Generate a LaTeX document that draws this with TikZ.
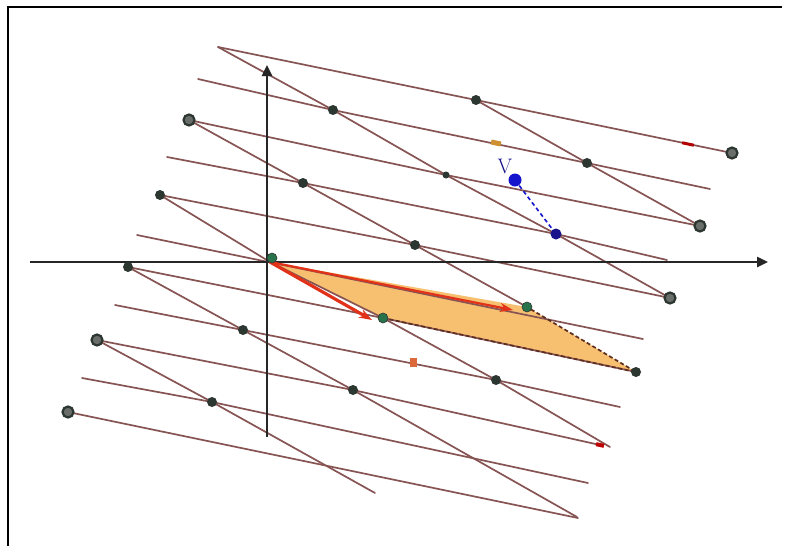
\documentclass[tikz,border=0pt]{standalone}
\usetikzlibrary{arrows.meta}
\definecolor{latcol}{RGB}{135,84,84}
\definecolor{ptdark}{RGB}{45,55,50}
\definecolor{ptgreen}{RGB}{40,115,75}
\definecolor{ringfill}{RGB}{105,110,107}
\definecolor{parfill}{RGB}{246,192,112}
\definecolor{paredge}{RGB}{95,45,30}
\definecolor{redarr}{RGB}{225,50,25}
\definecolor{vblue}{RGB}{20,20,205}
\definecolor{vnavy}{RGB}{25,20,140}
\definecolor{orgmark}{RGB}{205,145,50}
\definecolor{orgred}{RGB}{220,105,60}
\begin{document}
\begin{tikzpicture}[x=1pt,y=-1pt,
  latline/.style={draw=latcol,line width=1.7pt,line cap=round,line join=round},
  axisline/.style={draw=black!85,line width=2.4pt,-{Triangle[length=11pt,width=10pt]}},
  dotpt/.style={circle,fill=ptdark,inner sep=0pt,minimum size=10pt},
  greenpt/.style={circle,fill=ptgreen,draw=ptdark,line width=0.6pt,inner sep=0pt,minimum size=10pt},
  ringpt/.style={circle,fill=ringfill,draw=ptdark,line width=2.2pt,inner sep=0pt,minimum size=11pt},
  redvec/.style={draw=redarr,line cap=round,-{Stealth[length=13pt,width=9pt]}},
  edgedash/.style={draw=paredge,line width=1.7pt,dash pattern=on 4pt off 2.5pt},
  blueseg/.style={draw=vblue,line width=1.6pt,dash pattern=on 4pt off 3pt},
  markbox/.style={inner sep=0pt}
]
\useasboundingbox (0,0) rectangle (788,546);
\fill[white] (0,0) rectangle (788,546);
% frame
\coordinate (fTL) at (8,7);
\coordinate (fTR) at (782,7);
\coordinate (fBL) at (8,546);
\draw[line width=2.6pt,black] (fBL) -- (fTL) -- (fTR);

% lattice positions
\coordinate (r5s) at (218,47);
\coordinate (q35) at (476,100);
\coordinate (q45) at (732,153);
\coordinate (r4s) at (198,79);
\coordinate (q24) at (333,110);
\coordinate (q34) at (587,163);
\coordinate (r4e) at (710,189);
\coordinate (q13) at (189,120);
\coordinate (q23) at (446,175);
\coordinate (q33) at (700,226);
\coordinate (r2s) at (167,157);
\coordinate (q12) at (303,183);
\coordinate (q22) at (556,234);
\coordinate (r2e) at (667,260);
\coordinate (q01) at (160,195);
\coordinate (q11) at (415,245);
\coordinate (q21) at (670,298);
\coordinate (r0s) at (137,235);
\coordinate (O) at (270,262);
\coordinate (q10) at (527,307);
\coordinate (r0e) at (643,339);
\coordinate (m1) at (128,267);
\coordinate (b1) at (383,318);
\coordinate (c1) at (636,372);
\coordinate (r2bs) at (115,305);
\coordinate (m2) at (243,330);
\coordinate (b2) at (496,380);
\coordinate (r2be) at (620,407);
\coordinate (n3) at (97,340);
\coordinate (m3) at (353,390);
\coordinate (r3e) at (600,445);
\coordinate (r4bs) at (82,378);
\coordinate (n4) at (212,402);
\coordinate (r4be) at (588,483);
\coordinate (n5) at (68,412);
\coordinate (r5e) at (578,518);
\coordinate (s0e) at (610,447);
\coordinate (sm1e) at (577,517);
\coordinate (sm2e) at (375,493);
\coordinate (vtip) at (515,180);
\coordinate (t1) at (372,320);
\coordinate (t2) at (513,310);

% fundamental parallelogram
\fill[parfill] (O) -- (b1) -- (c1) -- (q10) -- cycle;

% shallow lattice lines
\draw[latline] (r5s) -- (q35) -- (q45);
\draw[latline] (r4s) -- (q24) -- (q34) -- (r4e);
\draw[latline] (q13) -- (q23) -- (q33);
\draw[latline] (r2s) -- (q12) -- (q22) -- (r2e);
\draw[latline] (q01) -- (q11) -- (q21);
\draw[latline] (r0s) -- (r0e);
\draw[latline] (m1) -- (b1) -- (c1);
\draw[latline] (r2bs) -- (m2) -- (b2) -- (r2be);
\draw[latline] (n3) -- (m3) -- (r3e);
\draw[latline] (r4bs) -- (n4) -- (r4be);
\draw[latline] (n5) -- (r5e);
% steep lattice lines
\draw[latline] (r5s) -- (q24) -- (q23) -- (q22) -- (q21);
\draw[latline] (q35) -- (q34) -- (q33);
\draw[latline] (q13) -- (q12) -- (q11) -- (q10);
\draw[latline] (q01) -- (O) -- (b1) -- (b2) -- (s0e);
\draw[latline] (m1) -- (m2) -- (m3) -- (sm1e);
\draw[latline] (n3) -- (n4) -- (sm2e);

% parallelogram dashed edges
\draw[edgedash] (b1) -- (c1) -- (q10);

% small coloured marks
\node[markbox,fill=orgmark,minimum width=10pt,minimum height=5pt,rotate=-12] (mk1) at (496,143) {};
\node[markbox,fill=orgred,minimum width=7pt,minimum height=9pt] (mk2) at (413,362) {};
\node[markbox,fill=red!75!black,minimum width=8pt,minimum height=4pt,rotate=-12] (mk3) at (r3e) {};
\node[markbox,fill=red!70!black,minimum width=12pt,minimum height=3pt,rotate=-12] (mk4) at (688,144) {};

% axes
\coordinate (xs) at (30,262);
\coordinate (xe) at (768,262);
\coordinate (ys) at (267,437);
\coordinate (ye) at (267,65);
\draw[axisline] (xs) -- (xe);
\draw[axisline] (ys) -- (ye);

% basis vectors
\draw[redvec,line width=2.2pt] (O) -- (t2);
\draw[redvec,line width=3.2pt] (O) -- (t1);

% blue vector v
\draw[blueseg] (vtip) -- (q22);

% lattice points
\node[ringpt] (P45) at (q45) {};
\node[dotpt] (P35) at (q35) {};
\node[dotpt] (P24) at (q24) {};
\node[dotpt] (P34) at (q34) {};
\node[ringpt] (P13) at (q13) {};
\node[dotpt,minimum size=7pt] (P23) at (q23) {};
\node[ringpt] (P33) at (q33) {};
\node[dotpt] (P12) at (q12) {};
\node[dotpt] (P01) at (q01) {};
\node[dotpt] (P11) at (q11) {};
\node[ringpt] (P21) at (q21) {};
\node[greenpt] (P00) at (272,258) {};
\node[greenpt] (P10) at (q10) {};
\node[greenpt] (B1) at (b1) {};
\node[dotpt] (M1) at (m1) {};
\node[dotpt] (C1) at (c1) {};
\node[dotpt] (M2) at (m2) {};
\node[dotpt] (B2) at (b2) {};
\node[ringpt] (N3) at (n3) {};
\node[dotpt] (M3) at (m3) {};
\node[dotpt] (N4) at (n4) {};
\node[ringpt] (N5) at (n5) {};

% blue points and label
\node[circle,fill=vnavy,inner sep=0pt,minimum size=11pt] (V2) at (q22) {};
\node[circle,fill=vblue,inner sep=0pt,minimum size=13pt] (V1) at (vtip) {};
\node[text=vnavy,font=\fontsize{21}{21}\selectfont,inner sep=0pt] (vlab) at (505,166) {V};
\end{tikzpicture}
\end{document}
